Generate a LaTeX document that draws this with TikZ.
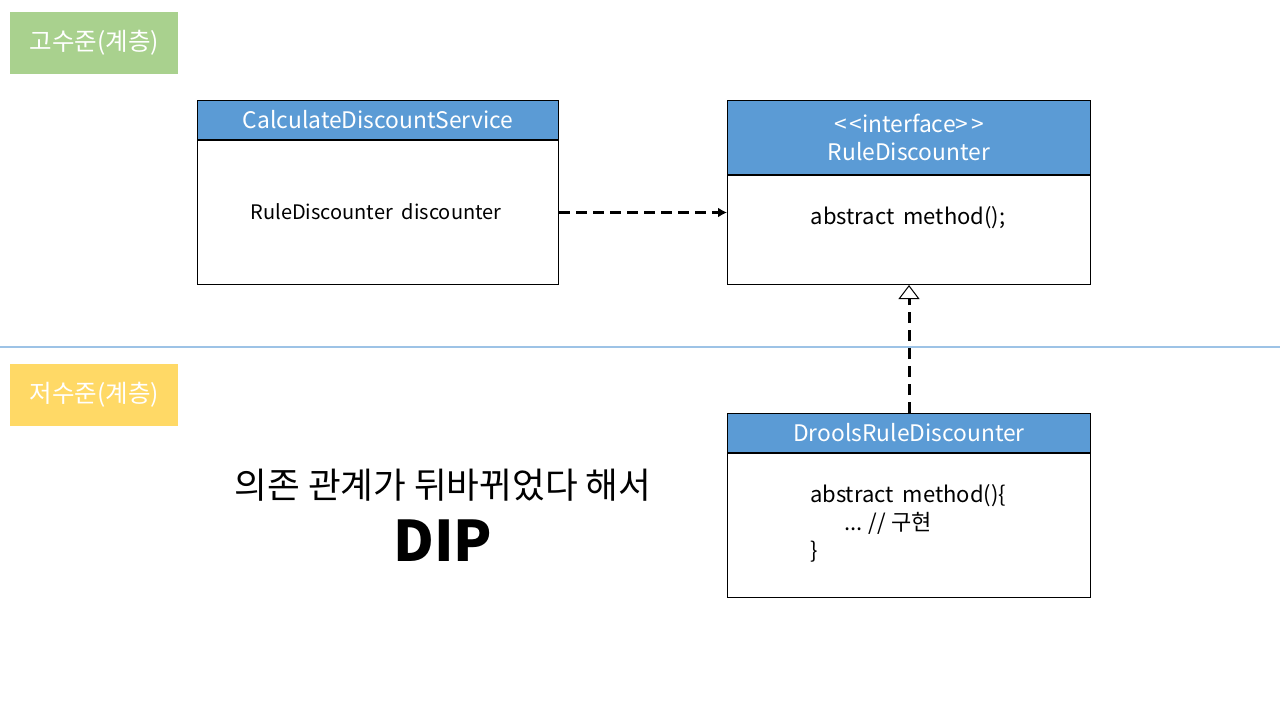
\documentclass[tikz,border=0pt]{standalone}
\usepackage{fontspec}
\setmainfont{Noto Sans CJK KR}
\usetikzlibrary{arrows.meta,positioning}
\definecolor{layergreen}{HTML}{A9D18E}
\definecolor{layeryellow}{HTML}{FFD966}
\definecolor{headblue}{HTML}{5B9BD5}
\definecolor{splitblue}{HTML}{9DC3E6}

\begin{document}
\begin{tikzpicture}[x=1pt, y=-1pt, >=Latex,
  layertag/.style={minimum width=168pt, minimum height=62pt, inner sep=0pt, anchor=north west,
    text=white, font=\fontsize{24.5}{28}\selectfont},
  classhead/.style={draw=black, line width=1pt, fill=headblue, text=white, minimum width=363pt,
    inner sep=0pt, anchor=north west, align=center, font=\fontsize{22.8}{28}\selectfont},
  classbody/.style={draw=black, line width=1pt, fill=white, minimum width=363pt, inner sep=0pt, anchor=north},
  member/.style={align=left, font=\fontsize{22}{28}\selectfont},
  depends/.style={line width=3pt, dash pattern=on 11pt off 6pt, -{Latex[length=9pt,width=10pt]}},
  realizes/.style={line width=3pt, dash pattern=on 11pt off 7pt,
    -{Triangle[open, fill=white, length=14pt, width=21pt, line width=1pt]}}]
  \useasboundingbox (0,0) rectangle (1280,720);

  % layers
  \node[layertag, fill=layergreen] (highTag) at (10,12) {고수준(계층)};
  \node[layertag, fill=layeryellow] (lowTag) at (10,364) {저수준(계층)};
  \draw[splitblue, line width=1.5pt] (0,347) -- (1280,347);

  % classes
  \node[classhead, minimum width=361pt, minimum height=39pt] (cdsHead) at (197,100) {CalculateDiscountService};
  \node[classbody, minimum width=361pt, minimum height=144pt] (cdsBody) at (cdsHead.south) {};
  \node[member, font=\fontsize{20}{28}\selectfont] (cdsField) at (376,212) {RuleDiscounter\hspace{9pt}discounter};

  \node[classhead, minimum height=74pt] (rdHead) at (727,100) {<\kern3pt<interface>\kern3pt>\\RuleDiscounter};
  \node[classbody, minimum height=109pt] (rdBody) at (rdHead.south) {};
  \node[member] (rdOp) at (908,218) {abstract\hspace{9pt}method();};

  \node[classhead, minimum height=39pt] (drdHead) at (727,413) {DroolsRuleDiscounter};
  \node[classbody, minimum height=144pt] (drdBody) at (drdHead.south) {};
  \node[member] (drdOp) at (908,523) {abstract\hspace{9pt}method()\{\\\hspace{34pt}... // 구현\\\}};

  \draw[depends] (cdsBody.east) -- (cdsBody.east -| rdBody.west);
  \draw[realizes] (drdHead.north) -- (rdBody.south);

  \node[font=\fontsize{35.6}{40}\selectfont] (caption) at (443,485) {의존 관계가 뒤바뀌었다 해서};
  \node[font=\fontsize{56}{62}\selectfont\bfseries] (dip) at (443,541) {DIP};
\end{tikzpicture}
\end{document}
